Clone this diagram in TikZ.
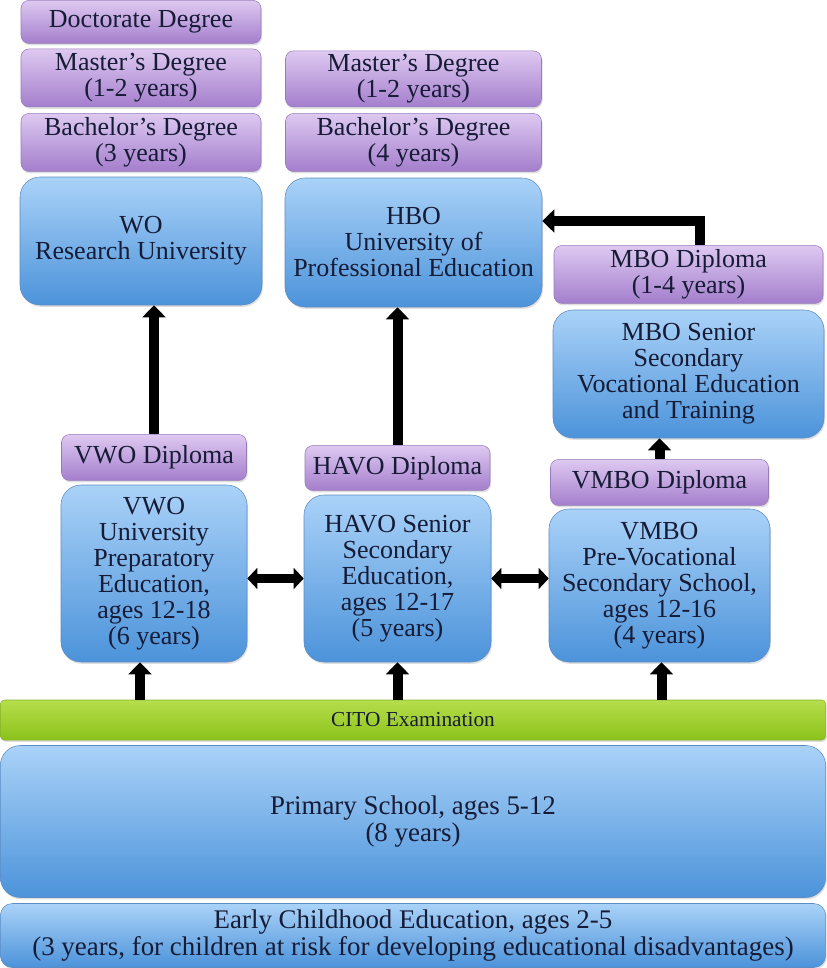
\documentclass[tikz,border=0pt]{standalone}
\usepackage{fontspec}
\setmainfont{Liberation Serif}
\newfontfamily\diagfont{Liberation Serif}
\usepackage{xcolor}
\usepackage{tikz}
\usetikzlibrary{arrows.meta,positioning,calc,shadows}
\definecolor{ink}{HTML}{161B36}
\definecolor{bluetop}{HTML}{AAD2F8}
\definecolor{bluebot}{HTML}{4C93DA}
\definecolor{blueedge}{HTML}{5C8CC4}
\definecolor{violettop}{HTML}{DEC9F1}
\definecolor{violetbot}{HTML}{A47ECC}
\definecolor{violetedge}{HTML}{987BBD}
\definecolor{greentop}{HTML}{B6DE4C}
\definecolor{greenbot}{HTML}{8CC21A}
\definecolor{greenedge}{HTML}{86B22A}
\newcommand{\boxfont}{\diagfont\fontsize{19.5}{19.5}\selectfont}
\newcommand{\basefont}{\diagfont\fontsize{20.2}{20.5}\selectfont}
\newcommand{\citofont}{\diagfont\fontsize{16}{17}\selectfont}
\tikzset{
  every node/.style={font=\boxfont,text=ink},
  soft/.style={drop shadow={opacity=0.25,shadow xshift=0.8pt,shadow yshift=-1.4pt}},
  stage/.style={soft,draw=blueedge,rounded corners=15pt,top color=bluetop,bottom color=bluebot,align=center,inner sep=2pt},
  diploma/.style={soft,draw=violetedge,rounded corners=6pt,top color=violettop,bottom color=violetbot,align=center,inner sep=2pt},
  exam/.style={soft,draw=greenedge,rounded corners=3pt,top color=greentop,bottom color=greenbot,font=\citofont},
  uparr/.style={-{Triangle[length=9pt,width=17pt]},line width=7.5pt,draw=black},
  twoway/.style={{Triangle[length=7.5pt,width=15.5pt]}-{Triangle[length=7.5pt,width=15.5pt]},line width=6.5pt,draw=black}
}
\begin{document}
\begin{tikzpicture}[x=0.75pt,y=-0.75pt]
  \useasboundingbox (0,0) rectangle (826,968);

  % base of the system
  \node[exam,minimum width=619pt,minimum height=30pt] (cito) at (413,720) {CITO Examination};
  \node[stage,minimum width=619pt,minimum height=114pt,font=\basefont] (primary) at (413,821.5) {Primary School, ages 5-12\\(8 years)};
  \node[stage,minimum width=619pt,minimum height=48pt,rounded corners=9pt,font=\basefont] (early) at (413,935.5) {Early Childhood Education, ages 2-5\\(3 years, for children at risk for developing educational disadvantages)};

  % secondary tracks
  \node[stage,minimum width=139.5pt,minimum height=132.75pt] (vwo) at (154,573.5) {VWO\\University\\Preparatory\\Education,\\ages 12-18\\(6 years)};
  \node[stage,minimum width=140.25pt,minimum height=125.25pt] (havo) at (397.5,578.5) {HAVO Senior\\Secondary\\Education,\\ages 12-17\\(5 years)};
  \node[stage,minimum width=165.75pt,minimum height=114.75pt] (vmbo) at (659.5,585.5) {VMBO\\Pre-Vocational\\Secondary School,\\ages 12-16\\(4 years)};
  \node[diploma,minimum width=138.75pt,minimum height=34.5pt,above=3pt of vwo] (vwodip) {VWO Diploma};
  \node[diploma,minimum width=138.75pt,minimum height=33.75pt,above=3pt of havo] (havodip) {HAVO Diploma};
  \node[diploma,minimum width=163.5pt,minimum height=34.5pt,above=2.25pt of vmbo] (vmbodip) {VMBO Diploma};

  % vocational
  \node[stage,minimum width=203.25pt,minimum height=96pt] (mbo) at (688.5,374) {MBO Senior\\Secondary\\Vocational Education\\and Training};
  \node[diploma,minimum width=201.75pt,minimum height=43.5pt,above=4.5pt of mbo] (mbodip) {MBO Diploma\\(1-4 years)};

  % higher education
  \node[stage,minimum width=181.5pt,minimum height=96pt] (wo) at (141,241) {WO\\Research University};
  \node[diploma,minimum width=180pt,minimum height=43.5pt,above=3.75pt of wo] (baL) {Bachelor’s Degree\\(3 years)};
  \node[diploma,minimum width=180pt,minimum height=43.5pt,above=4.5pt of baL] (maL) {Master’s Degree\\(1-2 years)};
  \node[diploma,minimum width=180pt,minimum height=32.25pt,above=3.75pt of maL] (doc) {Doctorate Degree};
  \node[stage,minimum width=192.75pt,minimum height=96.75pt] (hbo) at (413.5,242.5) {HBO\\University of\\Professional Education};
  \node[diploma,minimum width=192pt,minimum height=43.5pt,above=4.5pt of hbo] (baM) {Bachelor’s Degree\\(4 years)};
  \node[diploma,minimum width=192pt,minimum height=42pt,above=4.5pt of baM] (maM) {Master’s Degree\\(1-2 years)};

  \coordinate (turn) at (700,221);

  \draw[uparr] ($(cito.north -| vwo.south)+(-14,0)$) -- ($(vwo.south)+(-14,0)$);
  \draw[uparr] (cito.north -| havo.south) -- (havo.south);
  \draw[uparr] ($(cito.north -| vmbo.south)+(2,0)$) -- ($(vmbo.south)+(2,0)$);
  \draw[twoway] (vwo.east |- havo.west) -- (havo.west);
  \draw[twoway] (havo.east) -- (vmbo.west |- havo.east);
  \draw[uparr] (vwodip.north) -- (vwodip.north |- wo.south);
  \draw[uparr] (havodip.north) -- (havodip.north |- hbo.south);
  \draw[uparr] (vmbodip.north) -- (vmbodip.north |- mbo.south);
  \draw[uparr] (mbodip.north -| turn) |- (hbo.east |- turn);
\end{tikzpicture}
\end{document}
